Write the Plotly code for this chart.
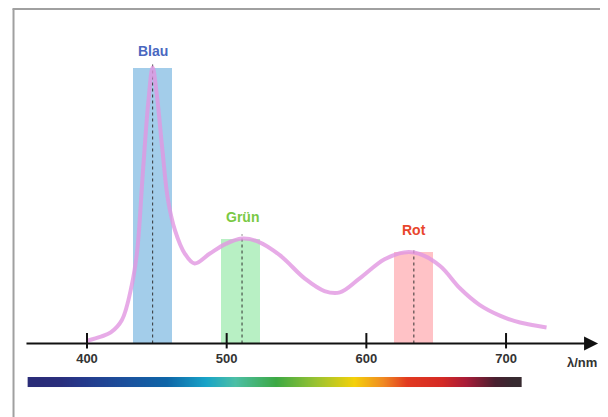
import plotly.graph_objects as go

# emission spectrum (wavelength nm -> relative intensity)
curve_nm = [400, 410, 417, 425, 432, 436, 440, 444, 447, 450, 454, 458, 463, 470, 477, 488,
            499, 511, 522, 538, 556, 570, 581, 595, 613, 627, 638, 653, 667, 681, 696, 710, 729]
curve_val = [1, 2.5, 4, 8.5, 21, 34, 62, 88, 100, 90, 70, 52, 41, 32.6, 29, 32.6,
             36, 38, 37, 32, 23.5, 19, 18.5, 23.5, 30.5, 33, 32.5, 28, 20, 14, 10, 7.6, 5.8]

# colour channels (filter bands)
band_names = ["Blau", "Grün", "Rot"]
band_center = [447, 510, 634]
band_peak = [447, 511, 634]
band_height = [100, 38, 33]
band_label_y = [106, 46, 41]
band_width = 28
band_fill = ["#a3cdea", "#b8f0c4", "#ffc2c6"]
band_text = ["#4a68c0", "#79c943", "#e8462c"]

tick_vals = [400, 500, 600, 700]

# visible spectrum bar
spectrum_nm = [365, 380, 394, 429, 457, 485, 506, 535, 563, 591, 612, 629, 654, 671, 692, 705]
spectrum_col = ["#2a2c78", "#2a2e7c", "#26378a", "#1b529e", "#0e66a8", "#18a4c8", "#4cbfa6",
                "#3da944", "#98c232", "#f4d10a", "#f08a22", "#e23a20", "#d52a25", "#a81c38",
                "#4a2030", "#372a30"]

W, H = 600, 409  # page body keeps an 8px margin

fig = go.Figure()

# spectrum colour bar
lo, hi = spectrum_nm[0], spectrum_nm[-1]
cscale = [[(v - lo) / (hi - lo), c] for v, c in zip(spectrum_nm, spectrum_col)]
fig.add_trace(go.Heatmap(x=spectrum_nm, y=[-14.855, -13.045], z=[spectrum_nm, spectrum_nm],
                         colorscale=cscale, zsmooth="best", showscale=False, hoverinfo="skip"))

# bands
fig.add_trace(go.Bar(x=band_center, y=band_height, width=band_width,
                     marker=dict(color=band_fill, line_width=0), showlegend=False))

# dotted peak lines
for x, h in zip(band_peak, band_height):
    fig.add_trace(go.Scatter(x=[x, x], y=[0, h + 1.5], mode="lines",
                             line=dict(color="#333", width=1, dash="dot"),
                             showlegend=False, hoverinfo="skip"))

# spectrum curve
fig.add_trace(go.Scatter(x=curve_nm, y=curve_val, mode="lines", line_shape="spline",
                         line=dict(color="rgba(225,150,225,0.8)", width=4), showlegend=False))

# tick marks crossing the axis
fig.add_trace(go.Scatter(x=tick_vals, y=[1.0] * len(tick_vals), mode="markers",
                         marker=dict(symbol="line-ns", size=11, line=dict(width=2, color="#111")),
                         showlegend=False, hoverinfo="skip"))

# band labels
for name, x, ly, c in zip(band_names, band_peak, band_label_y, band_text):
    fig.add_annotation(x=x, y=ly, text=f"<b>{name}</b>", showarrow=False,
                       font=dict(size=14, color=c))

# axis line with arrow
fig.add_annotation(x=765.9, y=0, ax=355.6, ay=0, xref="x", yref="y", axref="x", ayref="y",
                   text="", showarrow=True, arrowhead=2, arrowsize=1.4, arrowwidth=2,
                   arrowcolor="#111")
fig.add_annotation(x=754.4, y=-6.9, text="<b>λ/nm</b>", showarrow=False,
                   font=dict(size=13, color="#333"))

# frame
fig.add_shape(type="line", xref="paper", yref="paper", x0=0.0092, x1=0.0092, y0=0, y1=0.9976,
              line=dict(color="#a0a0a0", width=2))
fig.add_shape(type="line", xref="paper", yref="paper", x0=0.0075, x1=1, y0=0.9976, y1=0.9976,
              line=dict(color="#a0a0a0", width=2))

fig.update_xaxes(range=[343.44, 773.0], showgrid=False, zeroline=False, showline=False,
                 tickvals=tick_vals, ticks="", ticklabelstandoff=5,
                 anchor="free", position=1 - 335.5 / H,
                 tickfont=dict(size=13, color="#333", family="Liberation Sans", weight="bold"))
fig.update_yaxes(range=[-26.63, 121.56], visible=False, showgrid=False, zeroline=False)

fig.update_layout(width=W, height=H, margin=dict(l=0, r=0, t=0, b=0),
                  plot_bgcolor="white", paper_bgcolor="white",
                  font=dict(family="Liberation Sans"), bargap=0)

fig.write_html("out.html")
